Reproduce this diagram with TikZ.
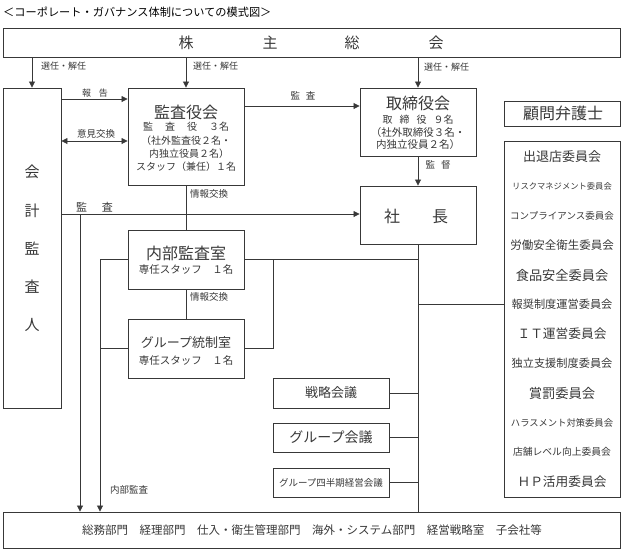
\documentclass[tikz,border=0pt]{standalone}
\usepackage{fontspec}
\setmainfont{Noto Sans CJK JP}
\usetikzlibrary{arrows.meta}
\definecolor{ink}{gray}{0.22}
\tikzset{
  box/.style={draw=ink, line width=0.9pt, rectangle, inner sep=0pt},
  txt/.style={inner sep=0pt, text=ink, font=\fontsize{#1}{#1}\selectfont},
  ln/.style={draw=ink, line width=0.8pt},
  arr/.style={-{Triangle[length=6pt,width=6pt]}},
  darr/.style={{Triangle[length=6pt,width=6pt]}-{Triangle[length=6pt,width=6pt]}},
}
\begin{document}
\begin{tikzpicture}[x=1pt,y=-1pt]
\useasboundingbox (0,0) rectangle (623,550);
% title
\node[txt=11.2, text=black, anchor=west] (title) at (3,12) {＜コーポレート・ガバナンス体制についての模式図＞};
% boxes
\node[box, minimum width=617pt, minimum height=29pt] (sh) at (311.5,43) {};
\node[box, minimum width=58pt, minimum height=320pt] (kaikei) at (32,248) {};
\node[box, minimum width=116pt, minimum height=97pt] (kansa) at (186,136.5) {};
\node[box, minimum width=116pt, minimum height=68pt] (tori) at (418,122) {};
\node[box, minimum width=116pt, minimum height=25pt] (komon) at (562,113.5) {};
\node[box, minimum width=116pt, minimum height=356pt] (iinkai) at (562,319) {};
\node[box, minimum width=116pt, minimum height=58pt] (shacho) at (418,215) {};
\node[box, minimum width=116pt, minimum height=59pt] (naibu) at (186,259.5) {};
\node[box, minimum width=116pt, minimum height=59pt] (group) at (186,348.5) {};
\node[box, minimum width=116pt, minimum height=30pt] (senryaku) at (331,393) {};
\node[box, minimum width=116pt, minimum height=29pt] (gkaigi) at (331,437.5) {};
\node[box, minimum width=116pt, minimum height=29pt] (shihanki) at (331,482.5) {};
\node[box, minimum width=617pt, minimum height=36pt] (bottom) at (311.5,530) {};
% shareholders text
\node[txt=15] (s1) at (186,43) {株};
\node[txt=15] (s2) at (270,43) {主};
\node[txt=15] (s3) at (352,43) {総};
\node[txt=15] (s4) at (436,43) {会};
% auditor vertical text
\node[txt=15] (k1) at (32,172) {会};
\node[txt=15] (k2) at (32,211) {計};
\node[txt=15] (k3) at (32,249) {監};
\node[txt=15] (k4) at (32,287) {査};
\node[txt=15] (k5) at (32,325) {人};
% kansayakukai
\node[txt=16] (ka1) at (186,112) {監査役会};
\node[txt=10] (ka2) at (186,127) {監\hspace{12pt}査\hspace{12pt}役\hspace{12pt}３名};
\node[txt=10] (ka3) at (186,141) {（社外監査役２名・};
\node[txt=10] (ka4) at (189,154) {内独立役員２名）};
\node[txt=10] (ka5) at (186,167) {スタッフ（兼任）１名};
% torishimariyakukai
\node[txt=16] (to1) at (418,103) {取締役会};
\node[txt=10] (to2) at (418,120) {取\hspace{7pt}締\hspace{7pt}役\hspace{7pt}９名};
\node[txt=10.5] (to3) at (418,132.5) {（社外取締役３名・};
\node[txt=10.5] (to4) at (418,145) {内独立役員２名）};
% shacho
\node[txt=16] (sha) at (416,216) {社\hspace{32pt}長};
% komon
\node[txt=16] (kom) at (563,113.5) {顧問弁護士};
% committees
\node[txt=13] (i1) at (562,157) {出退店委員会};
\node[txt=8.3] (i2) at (562,186.5) {リスクマネジメント委員会};
\node[txt=9.5] (i3) at (562,216) {コンプライアンス委員会};
\node[txt=11.5] (i4) at (562,245.5) {労働安全衛生委員会};
\node[txt=13.2] (i5) at (562,275) {食品安全委員会};
\node[txt=11.2] (i6) at (562,304.5) {報奨制度運営委員会};
\node[txt=12.7] (i7) at (562,334) {ＩＴ運営委員会};
\node[txt=11.2] (i8) at (562,363.5) {独立支援制度委員会};
\node[txt=13.3] (i9) at (562,393) {賞罰委員会};
\node[txt=9.3] (i10) at (562,422.5) {ハラスメント対策委員会};
\node[txt=9.8] (i11) at (562,452) {店舗レベル向上委員会};
\node[txt=12.7] (i12) at (562,481.5) {ＨＰ活用委員会};
% naibu / group
\node[txt=16] (na1) at (186,253) {内部監査室};
\node[txt=10.5] (na2) at (186,270) {専任スタッフ　１名};
\node[txt=13] (gr1) at (186,343) {グループ統制室};
\node[txt=10.5] (gr2) at (186,360) {専任スタッフ　１名};
% meetings
\node[txt=13] (m1) at (331,393) {戦略会議};
\node[txt=14] (m2) at (331,437.5) {グループ会議};
\node[txt=9.5] (m3) at (331,482.5) {グループ四半期経営会議};
% bottom
\node[txt=11.5] (bt) at (312,530) {総務部門　経理部門　仕入・衛生管理部門　海外・システム部門　経営戦略室　子会社等};
% helper coordinates
\coordinate (yrep) at (0,99);
\coordinate (yiken) at (0,141);
\coordinate (ykansa) at (0,106);
\coordinate (yaudit) at (0,214);
\coordinate (yiin) at (0,304);
\coordinate (xa) at (80,0);
\coordinate (xb) at (100,0);
\coordinate (xc) at (273,0);
% connectors from shareholders
\draw[ln,arr] (kaikei.north |- sh.south) -- (kaikei.north);
\draw[ln,arr] (kansa.north |- sh.south) -- (kansa.north);
\draw[ln,arr] (tori.north |- sh.south) -- (tori.north);
\node[txt=9, anchor=west] (l1) at (41,66) {選任・解任};
\node[txt=9, anchor=west] (l2) at (193,66) {選任・解任};
\node[txt=9, anchor=west] (l3) at (424,67) {選任・解任};
% auditor <-> kansa
\draw[ln,arr] (kaikei.east |- yrep) -- (kansa.west |- yrep);
\node[txt=9] (l4) at (95,93) {報\hspace{8pt}告};
\draw[ln,darr] (kaikei.east |- yiken) -- (kansa.west |- yiken);
\node[txt=9.5] (l5) at (96,134) {意見交換};
% kansa -> tori
\draw[ln,arr] (kansa.east |- ykansa) -- (tori.west |- ykansa);
\node[txt=9.5] (l6) at (303,96) {監\hspace{6pt}査};
% tori -> shacho
\draw[ln,arr] (tori.south) -- (shacho.north);
\node[txt=9.5] (l7) at (438,165) {監\hspace{6pt}督};
% auditor audit line
\draw[ln,arr] (kaikei.east |- yaudit) -- (shacho.west |- yaudit);
\node[txt=11] (l8) at (94.5,207) {監\hspace{15pt}査};
\draw[ln,arr] (xa |- yaudit) -- (xa |- bottom.north);
% information exchange
\draw[ln] (kansa.south) -- (naibu.north);
\node[txt=9.5, anchor=west] (l9) at (190,194) {情報交換};
\draw[ln] (naibu.south) -- (group.north);
\node[txt=9.5, anchor=west] (l10) at (190,297) {情報交換};
% trunk from shacho
\draw[ln] (shacho.south) -- (shacho.south |- bottom.north);
\draw[ln] (naibu.east) -- (shacho.south |- naibu.east);
\draw[ln] (xc |- naibu.east) |- (group.east);
\draw[ln] (shacho.south |- yiin) -- (iinkai.west |- yiin);
\draw[ln] (senryaku.east) -- (shacho.south |- senryaku.east);
\draw[ln] (gkaigi.east) -- (shacho.south |- gkaigi.east);
\draw[ln] (shihanki.east) -- (shacho.south |- shihanki.east);
% internal audit
\draw[ln,arr] (naibu.west) -| (xb |- bottom.north);
\draw[ln] (group.west) -- (xb |- group.west);
\node[txt=9.5] (l11) at (129,490) {内部監査};
\end{tikzpicture}
\end{document}
